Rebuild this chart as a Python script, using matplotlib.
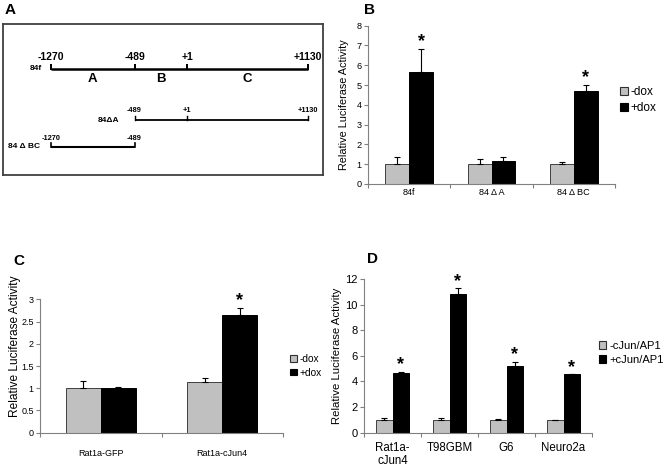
import numpy as np
import matplotlib
matplotlib.use("Agg")
import matplotlib.pyplot as plt
from matplotlib.patches import Patch

plt.rcParams['font.family'] = ['Liberation Sans', 'DejaVu Sans']

# ---- panel A: promoter constructs (genomic positions) ----
constructs = ['84f', '84\u0394A', '84 \u0394 BC']
construct_start = [-1270, -489, -1270]
construct_end = [1130, 1130, -489]
construct_marks = [[-1270, -489, 1, 1130], [-489, 1, 1130], [-1270, -489]]
mark_labels = [['-1270', '-489', '+1', '+1130'], ['-489', '+1', '+1130'], ['-1270', '-489']]
region_names = ['A', 'B', 'C']
region_bounds = [-1270, -489, 1, 1130]

# ---- panel B ----
b_cats = ['84f', '84 \u0394 A', '84 \u0394 BC']
b_minus = [1.0, 1.0, 1.0]
b_minus_err = [0.34, 0.26, 0.10]
b_plus = [5.65, 1.14, 4.69]
b_plus_err = [1.17, 0.20, 0.32]
b_star = [True, False, True]

# ---- panel C ----
c_cats = ['Rat1a-GFP', 'Rat1a-cJun4']
c_minus = [1.0, 1.14]
c_minus_err = [0.17, 0.08]
c_plus = [1.0, 2.65]
c_plus_err = [0.02, 0.16]
c_star = [False, True]

# ---- panel D ----
d_cats = ['Rat1a-\ncJun4', 'T98GBM', 'G6', 'Neuro2a']
d_minus = [0.97, 0.97, 0.99, 0.99]
d_minus_err = [0.14, 0.20, 0.05, 0.04]
d_plus = [4.67, 10.82, 5.20, 4.55]
d_plus_err = [0.07, 0.45, 0.33, 0.02]
d_star = [True, True, True, True]

W, H = 664, 468
GRAY = '#c0c0c0'
SPINE = '#808080'

fig = plt.figure(figsize=(W / 100, H / 100), dpi=100)


def px_axes(left, top, right, bottom):
    return fig.add_axes([left / W, 1 - bottom / H, (right - left) / W, (bottom - top) / H])


def fig_text(x, y, s, **kw):
    fig.text(x / W, 1 - y / H, s, **kw)


# panel A
axA = px_axes(3, 24, 323, 175)
axA.set_xlim(-1718, 1270)
axA.set_ylim(175, 24)
axA.set_xticks([])
axA.set_yticks([])
for sp in axA.spines.values():
    sp.set_color('#404040')
    sp.set_linewidth(1.3)

row_y = [69, 120, 147]
row_lw = [1.8, 1.3, 1.5]
mark_size = [7.5, 5.3, 5.3]
mark_dy = [12, 10, 8]
name_gap = [9, 15, 11]
for i, name in enumerate(constructs):
    y = row_y[i]
    axA.plot([construct_start[i], construct_end[i]], [y, y], color='black', lw=row_lw[i],
             solid_capstyle='butt')
    for m, lab in zip(construct_marks[i], mark_labels[i]):
        axA.plot([m, m], [y, y - 4], color='black', lw=row_lw[i] * 0.8)
        axA.annotate(lab, (m, y), xytext=(0, mark_dy[i]), textcoords='offset pixels',
                     ha='center', va='center', fontsize=mark_size[i], fontweight='bold')
    axA.annotate(name, (construct_start[i], y), xytext=(-name_gap[i], 0),
                 textcoords='offset pixels', ha='right', va='center',
                 fontsize=6, fontweight='bold')
for j, r in enumerate(region_names):
    mid = (region_bounds[j] + region_bounds[j + 1]) / 2
    axA.annotate(r, (mid, row_y[0]), xytext=(0, -10), textcoords='offset pixels',
                 ha='center', va='center', fontsize=9.5, fontweight='bold')


def bar_panel(ax, cats, minus, minus_err, plus, plus_err, stars, ymax, ystep,
              tick_fs, xlab_fs, xpad, fmt):
    n = len(cats)
    x = np.arange(n)
    w = 0.29
    ax.bar(x - w / 2, minus, w, color=GRAY, edgecolor='#404040', linewidth=0.7, zorder=2)
    ax.bar(x + w / 2, plus, w, color='black', edgecolor='black', linewidth=0.7, zorder=2)
    ax.errorbar(x - w / 2, minus, yerr=[np.zeros(n), minus_err], fmt='none',
                ecolor='black', elinewidth=0.8, capsize=2.5, capthick=0.8, zorder=3)
    ax.errorbar(x + w / 2, plus, yerr=[np.zeros(n), plus_err], fmt='none',
                ecolor='black', elinewidth=0.8, capsize=2.5, capthick=0.8, zorder=3)
    for xi, v, e, s in zip(x, plus, plus_err, stars):
        if s:
            ax.annotate('*', (xi + w / 2, v + e), xytext=(0, 7), textcoords='offset pixels',
                        ha='center', va='center', fontsize=13, fontweight='bold')
    ax.set_xlim(-0.5, n - 0.5)
    ax.set_ylim(0, ymax)
    ax.set_yticks(np.arange(0, ymax + ystep / 2, ystep))
    ax.yaxis.set_major_formatter(plt.FormatStrFormatter(fmt))
    ax.set_xticks(x)
    ax.set_xticklabels(cats, fontsize=xlab_fs, linespacing=1.05)
    ax.set_xticks(np.arange(n + 1) - 0.5, minor=True)
    ax.tick_params(axis='x', which='major', length=0, pad=xpad)
    ax.tick_params(axis='x', which='minor', length=3, color=SPINE, width=0.8)
    ax.tick_params(axis='y', length=3, color=SPINE, width=0.8, pad=1.5, labelsize=tick_fs)
    for sp in ['top', 'right']:
        ax.spines[sp].set_visible(False)
    for sp in ['left', 'bottom']:
        ax.spines[sp].set_color(SPINE)
        ax.spines[sp].set_linewidth(0.8)


def legend(x, y, labels, fs):
    handles = [Patch(facecolor=GRAY, edgecolor='#303030', linewidth=0.8),
               Patch(facecolor='black', edgecolor='black', linewidth=0.8)]
    fig.legend(handles, labels, loc='upper left', bbox_to_anchor=(x / W, 1 - y / H),
               frameon=False, fontsize=fs, handlelength=0.65, handleheight=0.65,
               handletextpad=0.25, labelspacing=0.35, borderpad=0, borderaxespad=0)


# panel B
axB = px_axes(368, 25.7, 615, 184)
bar_panel(axB, b_cats, b_minus, b_minus_err, b_plus, b_plus_err, b_star, 8, 1,
          6.6, 6.6, 3, '%g')
legend(620, 86, ['-dox', '+dox'], 8.5)
fig_text(344, 105, 'Relative Luciferase Activity', rotation=90, ha='center', va='center',
         fontsize=7.8)

# panel C
axC = px_axes(40, 299.3, 283, 432.7)
bar_panel(axC, c_cats, c_minus, c_minus_err, c_plus, c_plus_err, c_star, 3, 0.5,
          6.5, 6.5, 12, '%g')
legend(290, 354, ['-dox', '+dox'], 7.3)
fig_text(15, 346, 'Relative Luciferase Activity', rotation=90, ha='center', va='center',
         fontsize=8.6)

# panel D
axD = px_axes(364, 279, 592, 432.7)
bar_panel(axD, d_cats, d_minus, d_minus_err, d_plus, d_plus_err, d_star, 12, 2,
          8, 8.3, 7, '%g')
legend(599, 341, ['-cJun/AP1', '+cJun/AP1'], 8)
fig_text(337, 356, 'Relative Luciferase Activity', rotation=90, ha='center', va='center',
         fontsize=8.2)

# panel letters
for lx, ly, s in [(5, 10, 'A'), (364, 10, 'B'), (13, 261, 'C'), (367, 259, 'D')]:
    fig_text(lx, ly, s, ha='left', va='center', fontsize=11, fontweight='bold')

fig.savefig('out.png', dpi=100)
